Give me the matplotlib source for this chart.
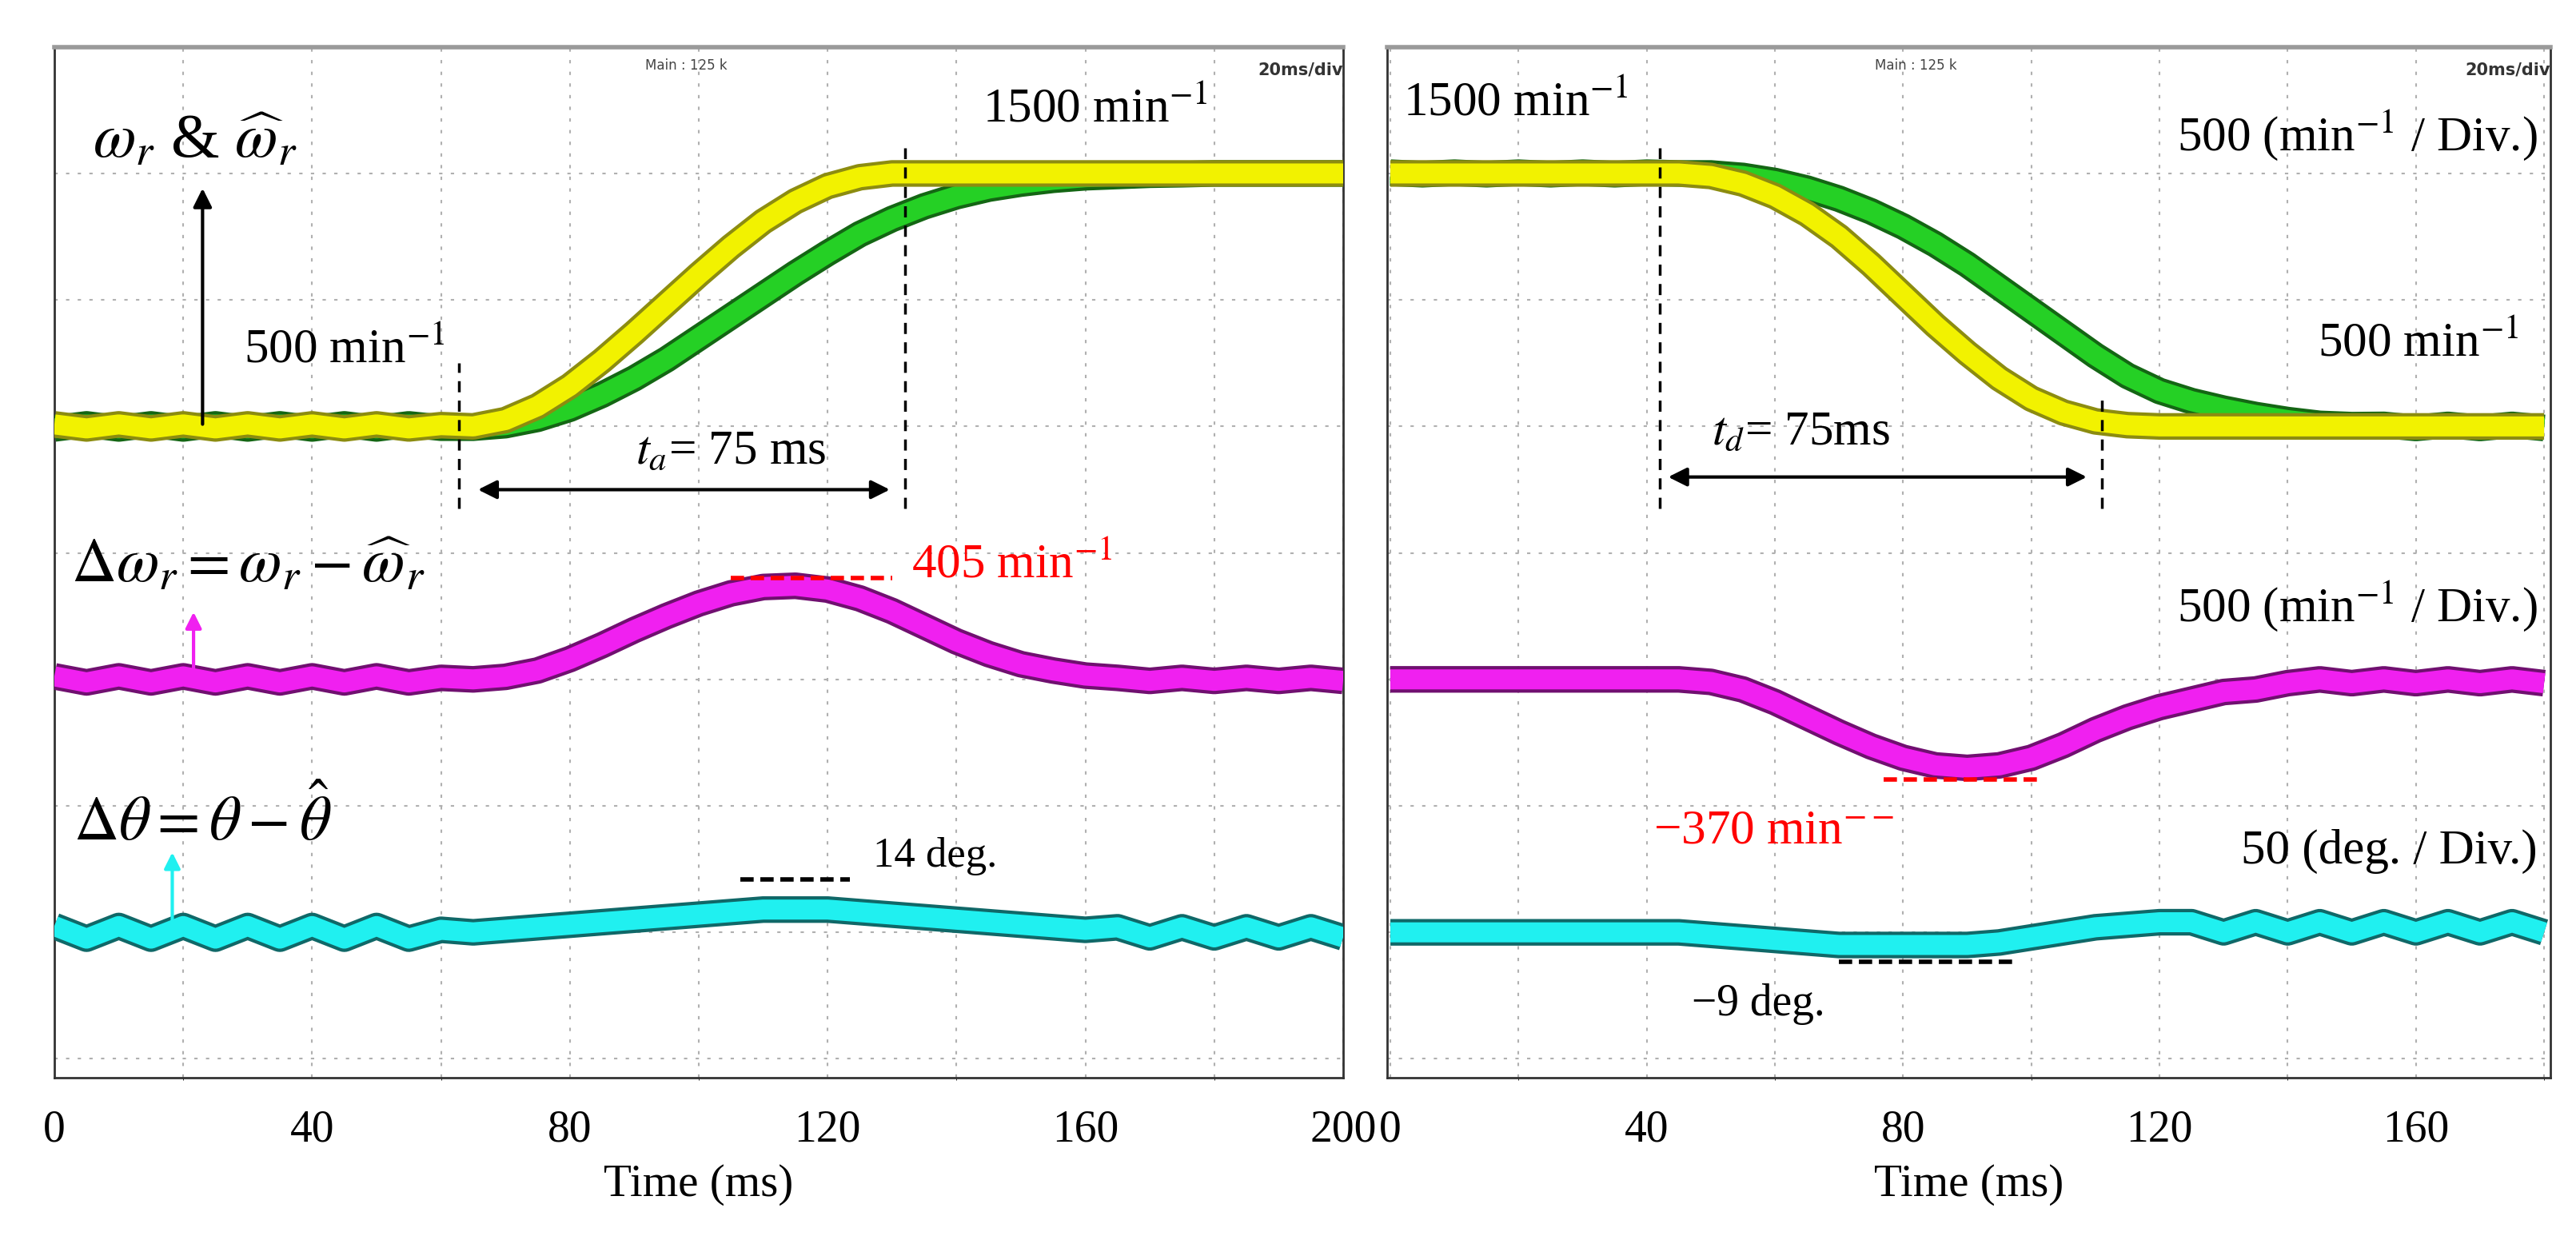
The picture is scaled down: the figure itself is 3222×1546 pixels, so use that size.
import numpy as np
import matplotlib
matplotlib.use("Agg")
import matplotlib.pyplot as plt
import matplotlib.patheffects as pe

plt.rcParams["font.family"] = "Liberation Serif"
plt.rcParams["mathtext.fontset"] = "stix"

# ---------------- data (5 ms sampling) ----------------
t_left = np.arange(0, 201, 5)
speed_est_left = [508, 492, 508, 492, 508, 492, 508, 492, 508, 492, 508, 492, 505,
                  500, 525, 580, 660, 760, 870, 985, 1100, 1210, 1310, 1390, 1450, 1485, 1500,
                  1500, 1500, 1500, 1500, 1500, 1500, 1500, 1500, 1500, 1500, 1500, 1500, 1500, 1500]
speed_act_left = [492, 508, 492, 508, 492, 508, 492, 508, 492, 508, 492, 508, 495,
                  495, 505, 530, 570, 625, 690, 765, 850, 935, 1020, 1105, 1185, 1260, 1320,
                  1370, 1410, 1440, 1460, 1475, 1485, 1490, 1495, 1497,
                  1500, 1500, 1500, 1500, 1500]
dw_left = [12, -12, 12, -12, 12, -12, 12, -12, 12, -12, 12, -12, 6,
           0, 10, 35, 80, 135, 195, 250, 300, 340, 365, 370, 355, 320, 270, 210, 150, 100, 60, 35, 15,
           6, -6, 6, -6, 6, -6, 6, -6]
dth_left = [2.5, -2.5, 2.5, -2.5, 2.5, -2.5, 2.5, -2.5, 2.5, -2.5, 2.5, -2.5, 1,
            0, 1, 2, 3, 4, 5, 6, 7, 8, 9, 9, 9, 8, 7, 6, 5, 4, 3, 2, 1,
            2, -2, 2, -2, 2, -2, 2, -2]

t_right = np.arange(0, 181, 5)
speed_est_right = [1500] * 10 + [1490, 1460, 1410, 1340, 1250, 1140, 1020, 900, 790, 690,
                                 610, 555, 520, 505, 500] + [500] * 12
speed_act_right = [1503, 1497, 1503, 1497, 1503, 1497, 1503, 1497, 1503, 1500,
                   1500, 1490, 1470, 1440, 1400, 1350, 1290, 1220, 1140, 1050, 960, 870, 780, 700,
                   640, 600, 570, 545, 525, 510, 505,
                   506, 494, 506, 494, 506, 494]
dw_right = [0] * 10 + [-10, -40, -90, -150, -210, -265, -310, -340, -350, -340, -310, -260,
                       -200, -150, -110, -80, -50, -40] + [-15, 0, -15, 0, -15, 0, -15, 0, -15]
dth_right = [0] * 10 + [-1, -2, -3, -4, -5, -5, -5, -5, -5, -4, -2, 0, 2, 3, 4] + \
            [4, 0, 4, 0, 4, 0, 4, 0, 4, 0, 4, 0]

# scope scaling (divisions)
def spd(v):
    return np.asarray(v) / 500.0 + 4.0

def dwv(v):
    return 3.0 + np.asarray(v) / 500.0

def dthv(v):
    return 1.0 + np.asarray(v) / 50.0

YEL, YEL_E = "#f2f200", "#8c8c10"
GRN, GRN_E = "#25d025", "#146614"
MAG, MAG_E = "#f020f0", "#701070"
CYN, CYN_E = "#20f0f0", "#106868"

fig = plt.figure(figsize=(32.22, 15.46), dpi=100)
axL = fig.add_axes([0.0211, 0.128, 0.5003, 0.834])
axR = fig.add_axes([0.5385, 0.128, 0.4516, 0.834])


def trace(ax, t, y, c, ec, z):
    ax.plot(t, y, color=c, lw=18, solid_capstyle="butt", zorder=z,
            path_effects=[pe.Stroke(linewidth=24, foreground=ec), pe.Normal()])


def setup(ax, xlim, ticks, right_ms):
    ax.set_xlim(*xlim)
    ax.set_ylim(-0.15, 8)
    ax.set_xticks(np.arange(0, xlim[1], 20), minor=True)
    ax.set_xticks(ticks)
    ax.set_xticklabels([str(v) for v in ticks], fontsize=40)
    ax.set_yticks(np.arange(0, 9, 1))
    ax.set_yticklabels([])
    ax.tick_params(length=0, pad=28)
    ax.grid(True, which="both", color="#b0b0b0", ls=(0, (2, 5)), lw=1.5)
    ax.set_xlabel("Time (ms)", fontsize=41, labelpad=12)
    for s in ax.spines.values():
        s.set_color("#333333")
        s.set_linewidth(2)
    ax.spines["top"].set_color("#9a9a9a")
    ax.spines["top"].set_linewidth(4)
    ax.text(right_ms, 7.82, "20ms/div", fontsize=15, fontweight="bold",
            family="DejaVu Sans", ha="right", va="center", color="#333333")


setup(axL, (0, 200), [0, 40, 80, 120, 160, 200], 200)
setup(axR, (-0.5, 181), [0, 40, 80, 120, 160], 181)

# left traces
trace(axL, t_left, spd(speed_act_left), GRN, GRN_E, 3)
trace(axL, t_left, spd(speed_est_left), YEL, YEL_E, 4)
trace(axL, t_left, dwv(dw_left), MAG, MAG_E, 3)
trace(axL, t_left, dthv(dth_left), CYN, CYN_E, 3)
# right traces
trace(axR, t_right, spd(speed_act_right), GRN, GRN_E, 3)
trace(axR, t_right, spd(speed_est_right), YEL, YEL_E, 4)
trace(axR, t_right, dwv(dw_right), MAG, MAG_E, 3)
trace(axR, t_right, dthv(dth_right), CYN, CYN_E, 3)

FS = 44
# ---------- left annotations ----------
axL.text(98, 7.85, "Main : 125 k", fontsize=12, family="DejaVu Sans", ha="center", va="center", color="#444444")
axL.text(144, 7.5, "1500 min$^{-1}$", fontsize=FS, ha="left", va="center")
axL.text(6, 7.25, r"$\omega_r$ & $\widehat{\omega}_r$", fontsize=56, ha="left", va="center")
axL.annotate("", xy=(23, 6.9), xytext=(23, 5.0),
             arrowprops=dict(arrowstyle="-|>", color="black", lw=3, mutation_scale=35), zorder=6)
axL.text(29.4, 5.6, "500 min$^{-1}$", fontsize=FS, ha="left", va="center")
axL.plot([62.8, 62.8], [4.35, 5.5], color="black", ls=(0, (4, 3)), lw=2.5, zorder=6)
axL.plot([132, 132], [4.35, 7.2], color="black", ls=(0, (4, 3)), lw=2.5, zorder=6)
axL.annotate("", xy=(65.4, 4.5), xytext=(130, 4.5),
             arrowprops=dict(arrowstyle="<|-|>", color="black", lw=3, mutation_scale=35))
axL.text(105, 4.8, r"$t_a$= 75 ms", fontsize=FS, ha="center", va="center")
axL.text(2.6, 3.89, r"$\Delta\omega_r = \omega_r - \widehat{\omega}_r$", fontsize=56, ha="left", va="center")
axL.annotate("", xy=(21.6, 3.55), xytext=(21.6, 3.0),
             arrowprops=dict(arrowstyle="-|>", color=MAG, lw=3, mutation_scale=30), zorder=6)
axL.plot([105, 130], [3.8, 3.8], color="red", ls=(0, (3, 1.5)), lw=4, zorder=6)
axL.text(133, 3.9, "405 min$^{-1}$", fontsize=FS, color="red", ha="left", va="center")
axL.text(3, 1.88, r"$\Delta\theta = \theta - \hat{\theta}$", fontsize=56, ha="left", va="center")
axL.annotate("", xy=(18.3, 1.65), xytext=(18.3, 1.0),
             arrowprops=dict(arrowstyle="-|>", color=CYN, lw=3, mutation_scale=30), zorder=6)
axL.plot([106.5, 123.5], [1.42, 1.42], color="black", ls=(0, (3, 1.5)), lw=4, zorder=6)
axL.text(127, 1.6, "14 deg.", fontsize=38, ha="left", va="center")

# ---------- right annotations ----------
axR.text(82, 7.85, "Main : 125 k", fontsize=12, family="DejaVu Sans", ha="center", va="center", color="#444444")
axR.text(2, 7.55, "1500 min$^{-1}$", fontsize=FS, ha="left", va="center")
axR.text(179, 7.3, "500 (min$^{-1}$ / Div.)", fontsize=FS, ha="right", va="center")
axR.text(176, 5.65, "500 min$^{-1}$", fontsize=FS, ha="right", va="center")
axR.plot([42, 42], [4.35, 7.2], color="black", ls=(0, (4, 3)), lw=2.5, zorder=6)
axR.plot([111, 111], [4.35, 5.25], color="black", ls=(0, (4, 3)), lw=2.5, zorder=6)
axR.annotate("", xy=(43, 4.6), xytext=(109, 4.6),
             arrowprops=dict(arrowstyle="<|-|>", color="black", lw=3, mutation_scale=35))
axR.text(64, 4.95, r"$t_d$= 75ms", fontsize=FS, ha="center", va="center")
axR.text(179, 3.58, "500 (min$^{-1}$ / Div.)", fontsize=FS, ha="right", va="center")
axR.plot([77, 101], [2.21, 2.21], color="red", ls=(0, (3, 1.5)), lw=4, zorder=6)
axR.text(41, 1.8, "\u2212370 min$^{-\u2212}$", fontsize=FS, color="red", ha="left", va="center")
axR.text(179, 1.64, "50 (deg. / Div.)", fontsize=FS, ha="right", va="center")
axR.plot([70, 98], [0.77, 0.77], color="black", ls=(0, (3, 1.5)), lw=4, zorder=6)
axR.text(47, 0.43, "\u22129 deg.", fontsize=40, ha="left", va="center")

fig.savefig("out.png", dpi=100, facecolor="white")
